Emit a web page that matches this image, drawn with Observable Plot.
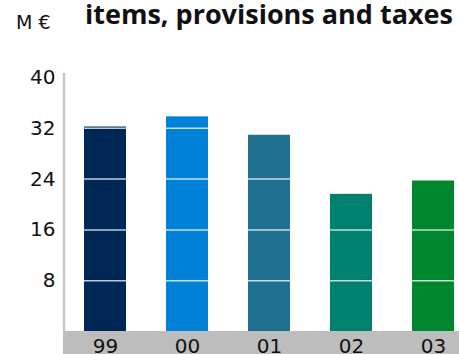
<!DOCTYPE html>
<html>
<head>
<meta charset="utf-8">
<script src="https://cdn.jsdelivr.net/npm/d3@7"></script>
<script src="https://cdn.jsdelivr.net/npm/@observablehq/plot@0.6"></script>
<style>
html,body{margin:0;padding:0;background:#fff;}
#wrap{position:relative;width:459px;height:354px;overflow:hidden;}
#unit{position:absolute;left:16px;top:10px;font:19px "DejaVu Sans",sans-serif;color:#111;line-height:24px;}
#title{position:absolute;left:85px;top:-3px;font:bold 27px "Open Sans",sans-serif;color:#111;white-space:nowrap;line-height:34px;}
#chart{position:absolute;left:0;top:0;}
</style>
</head>
<body>
<div id="wrap">
  <div id="chart"></div>
  <div id="unit">M €</div>
  <div id="title">items, provisions and taxes</div>
</div>
<script>
const years = ["99", "00", "01", "02", "03"];
const values = [32.2, 33.8, 30.9, 21.6, 23.7];
const colors = ["#002856", "#0080d6", "#1f718f", "#00806f", "#00862e"];
const yTicks = [8, 16, 24, 32, 40];
const gridTicks = [8, 16, 24, 32];

const data = years.map((y, i) => ({year: y, value: values[i]}));

const plot = Plot.plot({
  width: 459,
  height: 354,
  marginLeft: 64,
  marginRight: 0,
  marginTop: 77,
  marginBottom: 23,
  style: {fontFamily: "DejaVu Sans, sans-serif", background: "transparent", overflow: "visible"},
  x: {domain: years, range: [64, 474], paddingInner: 0.49, paddingOuter: 0.245, label: null},
  y: {domain: [0, 40], label: null},
  color: {domain: years, range: colors},
  marks: [
    Plot.barY(data, {x: "year", y: "value", fill: "year"}),
    Plot.ruleY(gridTicks, {stroke: "white", strokeOpacity: 0.75, strokeWidth: 1.5}),
    Plot.axisY(yTicks, {tickSize: 0, tickPadding: 9, fontSize: 20, fill: "#111", label: null}),
    Plot.axisX({tickSize: 0, tickPadding: 7, fontSize: 20, fill: "#111", label: null})
  ]
});

// grey baseline band and axis line derived from the scales
const ys = plot.scale("y");
const y0 = ys.apply(0), yTop = ys.apply(40);
const svg = d3.select(plot);
svg.insert("rect", ":first-child")
  .attr("x", 63).attr("y", y0)
  .attr("width", 459 - 63).attr("height", 354 - y0)
  .attr("fill", "#bdbdbd");
svg.append("line")
  .attr("x1", 64).attr("x2", 64)
  .attr("y1", yTop - 4).attr("y2", y0)
  .attr("stroke", "#c8c8c8").attr("stroke-width", 2.5);
document.getElementById("chart").appendChild(plot);
</script>
</body>
</html>
